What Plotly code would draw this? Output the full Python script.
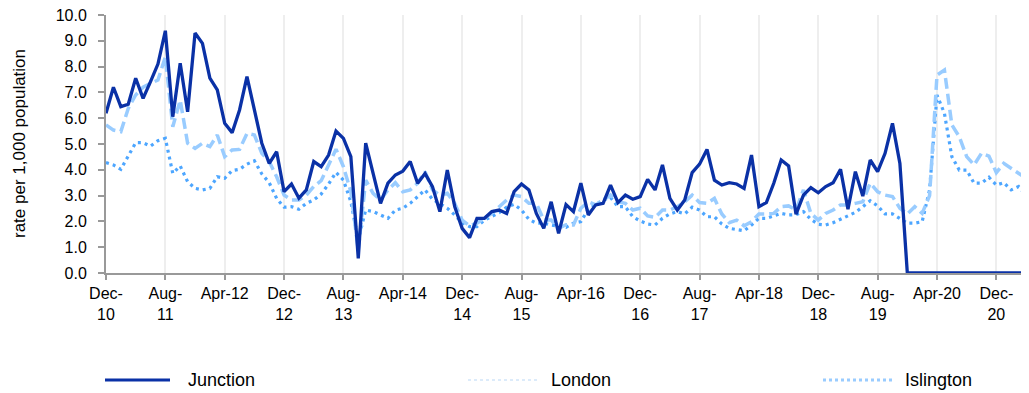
import pandas as pd
import plotly.graph_objects as go

# monthly categories, Dec-10 .. Apr-21
months = [d.strftime("%b-%y") for d in pd.date_range("2010-12-01", periods=125, freq="MS")]

junction = [
    6.19, 7.2, 6.45, 6.54, 7.55, 6.77, 7.42, 8.1, 9.39, 6.06, 8.13, 6.25, 9.3, 8.9, 7.55, 7.1,
    5.8, 5.44, 6.32, 7.61, 6.32, 5.03, 4.25, 4.7, 3.15, 3.45, 2.9, 3.22, 4.32, 4.12, 4.57, 5.5,
    5.22, 4.51, 0.57, 5.03, 3.86, 2.7, 3.48, 3.8, 3.95, 4.32, 3.48, 3.86, 3.35, 2.38, 3.99, 2.57,
    1.73, 1.37, 2.12, 2.12, 2.38, 2.44, 2.31, 3.15, 3.45, 3.22, 2.31, 1.73, 2.76, 1.54,
    2.65, 2.38, 3.48, 2.25, 2.64, 2.7, 3.41, 2.73, 3.02, 2.86, 2.96, 3.63, 3.22, 4.19, 2.89, 2.44,
    2.83, 3.89, 4.22, 4.79, 3.6, 3.41, 3.5, 3.45, 3.28, 4.57, 2.57, 2.73, 3.48, 4.38, 4.15,
    2.28, 3.02, 3.31, 3.11, 3.35, 3.5, 4.02, 2.47, 3.93, 2.98, 4.38, 3.93, 4.64, 5.8, 4.25,
    0, 0, 0, 0, 0, 0, 0, 0, 0, 0, 0, 0, 0, 0, 0, 0, 0,
]

london = [
    4.28, 4.19, 4.02, 4.51, 5.05, 5.05, 4.92, 5.13, 5.22, 3.86, 4.15, 3.54, 3.28, 3.22, 3.28, 3.73,
    3.67, 3.97, 4.02, 4.22, 4.35, 3.84, 3.5, 2.89, 2.55, 2.57, 2.47, 2.7, 2.83, 3.06, 3.45, 3.9,
    3.6, 2.76, 1.28, 2.44, 2.38, 2.25, 2.12, 2.44, 2.51, 2.7, 2.96, 3.22, 2.86, 2.7, 2.51, 2.25,
    1.95, 1.8, 1.8, 2.05, 2.18, 2.34, 2.55, 2.66, 2.44, 2.08, 1.93, 1.93, 1.86, 1.8,
    1.77, 1.93, 1.99, 2.47, 2.64, 2.83, 2.93, 2.57, 2.57, 2.18, 2.02, 1.9, 1.86, 2.12, 2.29, 2.38,
    2.29, 2.55, 2.44, 2.18, 2.18, 1.9, 1.73, 1.69, 1.64, 1.86, 2.12, 2.12, 2.21, 2.31, 2.25,
    2.26, 2.38, 2.08, 1.89, 1.86, 1.95, 2.08, 2.21, 2.35, 2.57, 2.8, 2.6, 2.29, 2.29, 2.12,
    1.93, 1.93, 1.99, 3.22, 6.9, 6.19, 4.51, 3.99, 3.99, 3.48, 3.48, 3.71, 3.41, 3.5, 3.22, 3.35, 3.02,
]

islington = [
    5.74, 5.54, 5.48, 6.38, 6.9, 7.2, 7.35, 7.48, 8.38, 5.67, 6.7, 5.03, 4.83, 5.03, 4.9, 5.35,
    4.51, 4.77, 4.79, 5.41, 5.35, 4.64, 4.32, 3.73, 3.02, 2.83, 2.83, 3.02, 3.35, 3.58, 4.19, 4.8,
    4.12, 3.15, 0.89, 3.6, 3.09, 2.83, 3.22, 3.5, 3.15, 3.22, 3.48, 3.93, 3.22, 3.02, 3.09, 2.7,
    2.05, 1.83, 1.93, 2.12, 2.31, 2.57, 2.83, 3.02, 2.96, 2.7, 2.7, 2.05, 2.05, 1.73,
    1.87, 1.86, 2.51, 2.76, 2.64, 2.83, 3.02, 2.76, 2.7, 2.44, 2.51, 2.21, 2.16, 2.44, 2.44, 2.57,
    2.76, 3.02, 2.73, 2.7, 2.89, 2.29, 1.95, 2.05, 1.83, 1.99, 2.29, 2.29, 2.31, 2.57, 2.6,
    2.44, 3.22, 2.31, 2.05, 2.31, 2.44, 2.64, 2.64, 2.7, 2.76, 3.48, 3.15, 3.02, 2.96, 2.51,
    2.29, 2.57, 2.31, 3.0, 7.67, 7.87, 5.74, 5.28, 4.51, 4.19, 4.64, 4.53, 3.89, 4.25, 4.06, 3.86, 3.67,
]

# every 8th month gets a label; long ones wrap like the original
tick_months = months[::8]
tick_text = [m if m.startswith("Apr") else m.replace("-", "-<br>") for m in tick_months]

DARK = "#0A31A6"
MID = "#4DA6FF"
LIGHT = "#99CCFF"

fig = go.Figure()
fig.add_trace(go.Scatter(x=months, y=london, mode="lines", name="London",
                         line=dict(color=MID, width=3.2, dash="3px,4px")))
fig.add_trace(go.Scatter(x=months, y=islington, mode="lines", name="Islington",
                         line=dict(color=LIGHT, width=3.5, dash="11px,5px")))
fig.add_trace(go.Scatter(x=months, y=junction, mode="lines", name="Junction",
                         line=dict(color=DARK, width=3.3)))


# legend drawn by hand so it spreads across the width like the source
# (page has an 8px body margin, plot area runs from x=106 to 1029 on the page)
def px(p):
    return (p - 106) / 923


leg_y = (273 - 380) / 258
legend_items = [
    ("Junction", 105, 170, 186, dict(color=DARK, width=3)),
    ("London", 468, 540, 549, dict(color="#DCEBFA", width=2, dash="dot")),
    ("Islington", 823, 893, 903, dict(color=LIGHT, width=3, dash="dot")),
]
for label, x0, x1, tx, style in legend_items:
    fig.add_shape(type="line", xref="paper", yref="paper", x0=px(x0), x1=px(x1),
                  y0=leg_y, y1=leg_y, line=style)
    fig.add_annotation(text=label, xref="paper", yref="paper", x=px(tx), y=leg_y,
                       xanchor="left", yanchor="middle", showarrow=False,
                       font=dict(size=18, color="#000"))

fig.add_annotation(text="rate per 1,000 population", xref="paper", yref="paper",
                   x=px(19), y=0.5, textangle=-90, xanchor="center", yanchor="middle",
                   showarrow=False, font=dict(size=17, color="#000"))

fig.update_xaxes(type="category", range=[0, 124.4], tickvals=tick_months, ticktext=tick_text,
                 tickangle=0, showgrid=True, gridcolor="#EEEEEE", gridwidth=1.5,
                 showline=True, linecolor="#999999", linewidth=2,
                 ticks="outside", ticklen=5, tickcolor="#999999", tickwidth=1.5)
fig.update_yaxes(range=[0, 10], dtick=1, tickformat=".1f", showgrid=False, zeroline=False,
                 showline=True, linecolor="#999999", linewidth=2,
                 ticks="outside", ticklen=6, tickcolor="#999999", tickwidth=1.5,
                 ticklabelstandoff=8, ticklabeloverflow="allow")

fig.update_layout(
    width=1021,
    height=385,
    margin=dict(l=98, r=0, t=7, b=120),
    plot_bgcolor="white",
    paper_bgcolor="white",
    showlegend=False,
    font=dict(family="Liberation Sans, Arial, sans-serif", size=16, color="#000"),
)

fig.write_html("out.html")
